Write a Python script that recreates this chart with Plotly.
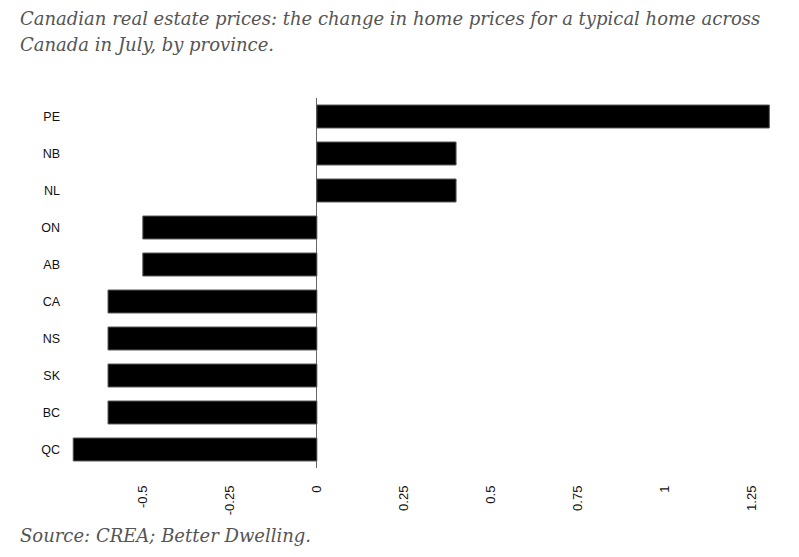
import plotly.graph_objects as go

# provinces, top to bottom as in the chart
provinces = ['PE', 'NB', 'NL', 'ON', 'AB', 'CA', 'NS', 'SK', 'BC', 'QC']
change = [1.3, 0.4, 0.4, -0.5, -0.5, -0.6, -0.6, -0.6, -0.6, -0.7]
tick_vals = [-0.5, -0.25, 0, 0.25, 0.5, 0.75, 1, 1.25]
tick_text = ['-0.5', '-0.25', '0', '0.25', '0.5', '0.75', '1', '1.25']

title_lines = ['Canadian real estate prices: the change in home prices for a typical home across',
               'Canada in July, by province.']
source_txt = 'Source: CREA; Better Dwelling.'

# page body has an 8px margin, so the figure is a bit smaller than the window
W, H = 791, 549
ML, MR, MT, MB = 60, 21, 90, 89
pw = W - ML - MR
ph = H - MT - MB

def px_x(x):
    return (x - ML) / pw

def px_y(y):
    return (H - MB - y) / ph

txt_font = dict(family='DejaVu Serif', size=18, color='#555555', style='italic')

fig = go.Figure()
fig.add_trace(go.Bar(
    y=provinces, x=change, orientation='h',
    marker=dict(color='black', line=dict(color='#555555', width=1)),
    width=0.62,
))

annots = []
for i, line in enumerate(title_lines):
    annots.append(dict(text=line, xref='paper', yref='paper', x=px_x(10), y=px_y(10 + 27*i),
                       xanchor='left', yanchor='middle', showarrow=False, font=txt_font))
annots.append(dict(text=source_txt, xref='paper', yref='paper', x=px_x(10), y=px_y(527),
                   xanchor='left', yanchor='middle', showarrow=False, font=txt_font))

fig.update_layout(
    width=W, height=H,
    margin=dict(l=ML, r=MR, t=MT, b=MB),
    plot_bgcolor='white', paper_bgcolor='white',
    showlegend=False,
    annotations=annots,
)
fig.update_xaxes(range=[-0.715, 1.325], tickvals=tick_vals, ticktext=tick_text, tickangle=-90,
                 showgrid=False, zeroline=True, zerolinecolor='#666666', zerolinewidth=1,
                 showline=False, ticklabelstandoff=14,
                 tickfont=dict(family='Liberation Sans', size=13, color='#111111'))
fig.update_yaxes(autorange='reversed', showgrid=False, showline=False, ticklabelstandoff=7,
                 tickfont=dict(family='Liberation Sans', size=12.5, color='#111111'))

fig.write_html("out.html")
